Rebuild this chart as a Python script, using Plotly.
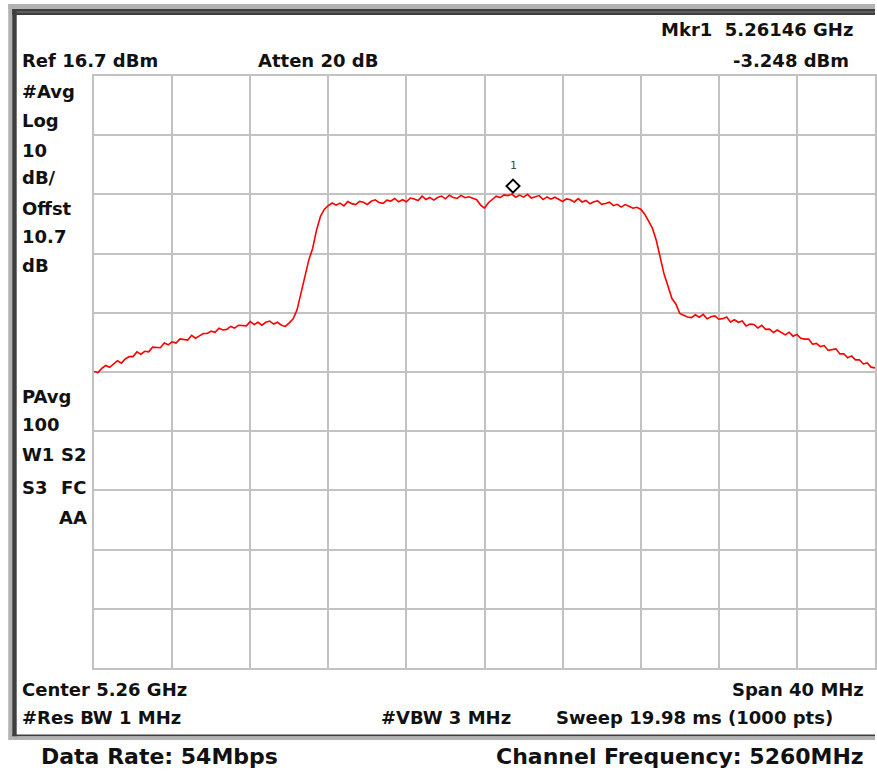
import numpy as np
import plotly.graph_objects as go

# Sweep settings
START_GHZ = 5.24
STOP_GHZ = 5.28
REF_DBM = 16.7
DB_PER_DIV = 10

# Trace 1 (averaged), 201 points across the span, dBm
left_skirt = [
    -33.2, -33.4, -32.7, -32.2, -32.5, -32.0, -31.4, -31.8, -31.1, -30.7,
    -30.7, -29.9, -30.3, -29.8, -29.9, -29.1, -29.2, -29.2, -28.4, -28.7,
    -28.2, -28.4, -27.7, -27.8, -27.9, -27.1, -27.6, -27.2, -26.8, -26.8,
    -26.4, -26.6, -25.9, -26.2, -26.1, -25.6, -25.9, -25.4, -25.4, -25.5,
    -24.8, -25.3, -24.9, -25.4, -24.9, -24.7, -25.2, -24.9, -25.4, -25.6,
    -25.0,
]
rising_edge = [-24.3, -22.8, -20.0, -16.9, -14.4, -12.4, -9.3, -7.0, -5.8, -5.2]
in_band = [
    -4.76, -5.12, -4.78, -5.24, -4.50, -4.86, -5.02, -4.48, -4.64, -5.00,
    -4.46, -4.21, -4.67, -4.82, -4.28, -4.43, -3.99, -4.54, -4.20, -4.55,
    -3.91, -4.07, -4.33, -3.59, -4.15, -3.81, -4.27, -3.83, -3.59, -4.05,
    -3.43, -3.81, -3.99, -3.47, -3.85, -3.70, -3.90, -4.20, -5.10, -5.60,
    -4.70, -4.10, -3.60, -3.84, -3.38, -3.51, -3.25, -3.78, -3.42, -3.76,
    -3.29, -3.93, -3.66, -3.50, -4.17, -3.73, -4.10, -3.77, -4.13, -4.50,
    -4.06, -4.21, -4.57, -4.02, -4.58, -4.33, -4.89, -4.54, -4.40, -4.97,
    -4.85, -4.62, -5.20, -4.97, -5.45, -5.02, -5.30, -5.63, -5.47, -5.80,
]
falling_edge = [-6.6, -7.9, -9.0, -11.1, -13.7, -16.8, -18.8, -20.9, -21.8, -23.4, -23.7, -24.0]
right_skirt = [
    -24.12, -23.63, -24.04, -23.57, -24.32, -23.97, -23.83, -24.39, -24.29, -24.02,
    -24.84, -24.47, -24.90, -24.67, -25.54, -25.21, -25.28, -25.85, -25.42, -26.09,
    -26.06, -26.63, -26.20, -26.66, -27.02, -26.59, -27.25, -26.95, -27.61, -27.74,
    -27.72, -28.60, -28.48, -29.01, -28.83, -29.65, -29.47, -29.39, -30.24, -30.22,
    -30.90, -30.58, -31.26, -31.24, -31.94, -31.76, -32.48, -32.60,
]
trace_dbm = left_skirt + rising_edge + in_band + falling_edge + right_skirt
freq_ghz = np.linspace(START_GHZ, STOP_GHZ, len(trace_dbm))

# Marker 1
MKR_GHZ = 5.26146
MKR_DBM = -3.248

# Figure geometry (pixels)
W, H = 877, 774
L, R, T, B = 94, 877, 76, 668


def px(x):
    return (x - L) / (R - L)


def py(y):
    return (B - y) / (B - T)


FONT = "DejaVu Sans"
INK = "#111111"

fig = go.Figure()
fig.add_trace(go.Scatter(
    x=freq_ghz, y=trace_dbm, mode="lines",
    line=dict(color="#ff0000", width=1.6),
    hoverinfo="skip", showlegend=False,
))

grid = dict(showgrid=True, gridcolor="#c2c2c2", gridwidth=2,
            showticklabels=False, ticks="", zeroline=False,
            showline=True, mirror=True, linecolor="#c2c2c2", linewidth=2)

fig.update_xaxes(range=[START_GHZ, STOP_GHZ], tick0=START_GHZ,
                 dtick=(STOP_GHZ - START_GHZ) / 10, **grid)
fig.update_yaxes(range=[REF_DBM - 10 * DB_PER_DIV, REF_DBM], tick0=REF_DBM,
                 dtick=DB_PER_DIV, **grid)

shapes = []


def rect(x0, y0, x1, y1, color):
    shapes.append(dict(type="rect", xref="paper", yref="paper",
                       x0=px(x0), x1=px(x1), y0=py(y1), y1=py(y0),
                       fillcolor=color, line=dict(width=0), layer="below"))


# Instrument bezel
rect(8, 4, 877, 9, "#b2b2b2")
rect(8, 4, 12, 740, "#b2b2b2")
rect(12, 9, 877, 15, "#3e3e3e")
rect(12, 11.5, 877, 12.5, "#7a7a7a")
rect(12, 9, 16.5, 736.5, "#3e3e3e")
rect(12, 734.5, 877, 736.5, "#3e3e3e")
rect(12, 736.5, 877, 740, "#b2b2b2")

# Marker 1 diamond, drawn just above the marked point
shapes.append(dict(
    type="path", xref="x", yref="y", xsizemode="pixel", ysizemode="pixel",
    xanchor=MKR_GHZ, yanchor=MKR_DBM,
    path="M 0 1.5 L 6.5 8 L 0 14.5 L -6.5 8 Z",
    line=dict(color="#000000", width=2), fillcolor="rgba(0,0,0,0)",
))

annotations = []


def label(text, x, y, anchor="left", size=18, color=INK, weight="bold"):
    annotations.append(dict(
        text=text, xref="paper", yref="paper", x=px(x), y=py(y),
        xanchor=anchor, yanchor="middle", showarrow=False,
        font=dict(family=FONT, size=size, color=color, weight=weight),
    ))


label("Mkr1  5.26146 GHz", 857, 29, "right")
label("Ref 16.7 dBm", 20, 61)
label("Atten 20 dB", 256, 61)
label("-3.248 dBm", 853, 60, "right")

for txt, yy in [("#Avg", 92), ("Log", 121), ("10", 150), ("dB/", 178),
                ("Offst", 208), ("10.7", 237), ("dB", 265),
                ("PAvg", 396), ("100", 425)]:
    label(txt, 20, yy)
label("W1", 20, 455)
label("S2", 89, 455, "right")
label("S3", 20, 487)
label("FC", 89, 487, "right")
label("AA", 89, 517, "right")

label("Center 5.26 GHz", 20, 689)
label("Span 40 MHz", 868, 689, "right")
label("#Res BW 1 MHz", 20, 717)
label("#VBW 3 MHz", 380, 717)
label("Sweep 19.98 ms (1000 pts)", 837, 717, "right")

label("Data Rate: 54Mbps", 39, 757, size=22)
label("Channel Frequency: 5260MHz", 868, 757, "right", size=22)

annotations.append(dict(
    text="1", xref="x", yref="y", x=MKR_GHZ, y=MKR_DBM, yshift=29,
    showarrow=False, font=dict(family="DejaVu Sans Mono", size=11, color="#444444"),
))

fig.update_layout(
    width=W, height=H,
    margin=dict(l=L, r=W - R, t=T, b=H - B, pad=0),
    paper_bgcolor="white", plot_bgcolor="white",
    shapes=shapes, annotations=annotations, showlegend=False,
)

fig.write_html("out.html")
